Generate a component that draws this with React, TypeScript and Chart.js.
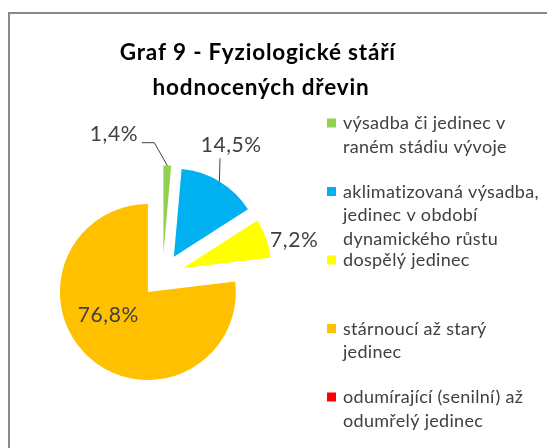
import React, { useEffect, useRef } from 'react';
import { Chart, registerables } from 'chart.js';

Chart.register(...registerables);

// ---- data ----
const titleLines = ['Graf 9 - Fyziologické stáří ', 'hodnocených dřevin'];
const categories = [
  ['výsadba či jedinec v', 'raném stádiu vývoje'],
  ['aklimatizovaná výsadba,', 'jedinec v období', 'dynamického růstu'],
  ['dospělý jedinec'],
  ['stárnoucí až starý', 'jedinec'],
  ['odumírající (senilní) až', 'odumřelý jedinec'],
];
const shares = [1.4, 14.5, 7.2, 76.8, 0];
const sliceColors = ['#92D050', '#00B0F0', '#FFFF00', '#FFC000', '#FF0000'];

// ---- layout / style ----
const W = 547;
const H = 448;
const CX = 162.5;
const CY = 275.5;
const R = 88;
const EXPLODE = 22;
const FONT = 'Lato, "Open Sans", sans-serif';
const TEXT = '#404040';
// label anchor (text centre x, baseline y) relative to pie centre
const labelOffsets = [
  [-48.5, -134.8],
  [68.7, -123.8],
  [131.7, -28.8],
  [-54.2, 46.2],
  [0, 0],
];
// leader lines: start point and optional elbow relative to label anchor
const leaders: (null | { from: number[]; elbow?: number[] })[] = [
  { from: [27.7, 2], elbow: [40.3, 2] },
  { from: [-11.2, 6.6] },
  null,
  null,
  null,
];
const LEGEND_X = 327;
const LEGEND_TEXT_X = 343;
const LEGEND_Y0 = 129;
const LEGEND_STEP = 68.5;
const LEGEND_LINE = 23.8;

const fmt = (v: number) => v.toFixed(1).replace('.', ',') + '%';

const explodePlugin = {
  id: 'explode',
  beforeDatasetsDraw(chart: any) {
    const ctx = chart.ctx;
    const meta = chart.getDatasetMeta(0);
    meta.data.forEach((arc: any) => {
      const mid = (arc.startAngle + arc.endAngle) / 2;
      ctx.save();
      ctx.translate(Math.cos(mid) * EXPLODE, Math.sin(mid) * EXPLODE);
      arc.draw(ctx);
      ctx.restore();
    });
    return false;
  },
};

const overlayPlugin = {
  id: 'overlay',
  afterDraw(chart: any) {
    const ctx = chart.ctx;
    const meta = chart.getDatasetMeta(0);
    ctx.save();
    // title
    ctx.fillStyle = '#000';
    ctx.font = `bold 22.5px ${FONT}`;
    ctx.letterSpacing = '0.8px';
    ctx.textAlign = 'center';
    ctx.textBaseline = 'alphabetic';
    titleLines.forEach((t, i) => ctx.fillText(t, 261, 59.5 + i * 35.5));

    // value labels
    ctx.font = `21px ${FONT}`;
    ctx.letterSpacing = '0.6px';
    ctx.fillStyle = TEXT;
    ctx.strokeStyle = '#404040';
    ctx.lineWidth = 1;
    shares.forEach((v, i) => {
      if (!v) return;
      const arc: any = meta.data[i];
      const ax = arc.x + labelOffsets[i][0];
      const ay = arc.y + labelOffsets[i][1];
      ctx.fillText(fmt(v), ax, ay);
      const ld = leaders[i];
      if (ld) {
        const mid = (arc.startAngle + arc.endAngle) / 2;
        const ex = arc.x + Math.cos(mid) * (arc.outerRadius + EXPLODE);
        const ey = arc.y + Math.sin(mid) * (arc.outerRadius + EXPLODE);
        ctx.beginPath();
        ctx.moveTo(ax + ld.from[0], ay + ld.from[1]);
        if (ld.elbow) ctx.lineTo(ax + ld.elbow[0], ay + ld.elbow[1]);
        ctx.lineTo(ex, ey);
        ctx.stroke();
      }
    });

    // legend
    ctx.textAlign = 'left';
    ctx.font = `18px ${FONT}`;
    ctx.letterSpacing = '0.3px';
    categories.forEach((lines, i) => {
      const by = LEGEND_Y0 + i * LEGEND_STEP;
      ctx.fillStyle = sliceColors[i];
      ctx.fillRect(LEGEND_X, by - 10.5, 9, 9);
      ctx.fillStyle = TEXT;
      lines.forEach((ln, j) => ctx.fillText(ln, LEGEND_TEXT_X, by + j * LEGEND_LINE));
    });
    ctx.restore();
  },
};

export default function App() {
  const ref = useRef<HTMLCanvasElement>(null);
  useEffect(() => {
    if (!ref.current) return;
    const chart = new Chart(ref.current, {
      type: 'pie',
      data: {
        labels: categories.map((c) => c.join(' ')),
        datasets: [
          {
            data: shares,
            backgroundColor: sliceColors,
            borderWidth: 0,
            radius: R,
          } as any,
        ],
      },
      options: {
        responsive: false,
        animation: false,
        layout: {
          padding: {
            left: 0,
            right: W - 2 * CX,
            top: CY - 150,
            bottom: H - (CY + 150),
          },
        },
        plugins: {
          legend: { display: false },
          tooltip: { enabled: false },
          title: { display: false },
        },
      },
      plugins: [explodePlugin, overlayPlugin],
    });
    return () => chart.destroy();
  }, []);

  return (
    <div style={{ position: 'fixed', left: 0, top: 0, width: W, height: H, background: '#fff', overflow: 'hidden' }}>
      <div
        style={{
          position: 'absolute',
          left: 8,
          top: 12,
          right: -10,
          bottom: -10,
          borderLeft: '2px solid #8a8a8a',
          borderTop: '2px solid #8a8a8a',
        }}
      />
      <canvas ref={ref} width={W} height={H} style={{ position: 'absolute', left: 0, top: 0 }} />
    </div>
  );
}
